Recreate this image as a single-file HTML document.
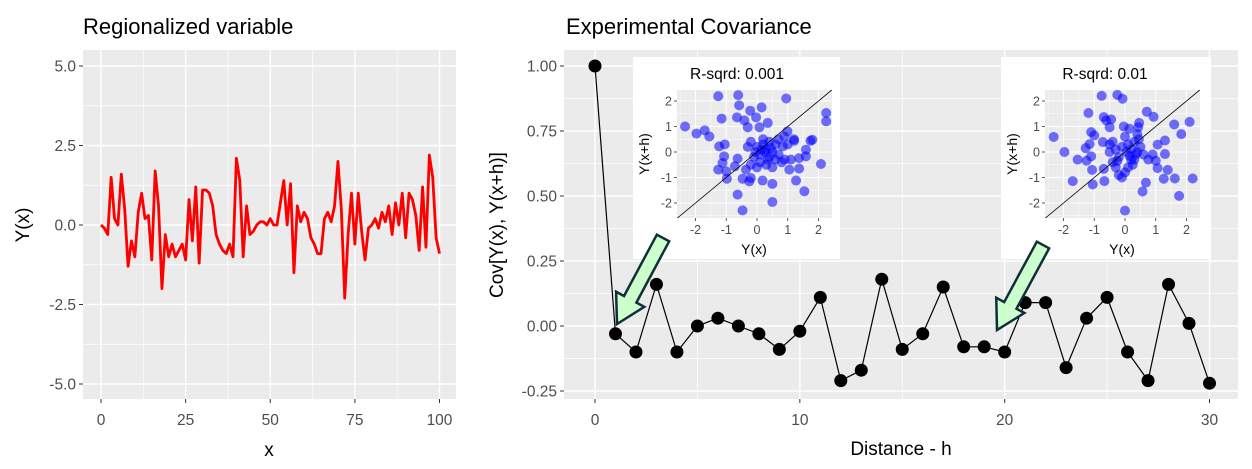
<!DOCTYPE html>
<html><head><meta charset="utf-8"><style>
html,body{margin:0;padding:0;background:#fff;}
svg{display:block;font-family:"Liberation Sans",Arial,sans-serif;}
</style></head><body>
<svg id="chart" width="1252" height="469" viewBox="0 0 1252 469"></svg>
<script>
// ---------- data ----------
const seriesX = [];
for (let i = 0; i <= 100; i++) seriesX.push(i);
const seriesY = [0.0,-0.1,-0.3,1.5,0.2,0.0,1.6,0.5,-1.3,-0.5,-1.0,0.4,1.0,0.2,0.3,-1.1,1.7,0.6,-2.0,-0.3,
-1.0,-0.6,-1.0,-0.8,-0.6,-1.1,0.8,-0.5,1.2,-1.2,1.1,1.1,1.0,0.6,-0.3,-0.6,-0.8,-0.9,-0.6,-1.0,
2.1,1.4,-1.0,0.6,-0.3,-0.2,0.0,0.1,0.1,0.0,0.2,0.0,0.0,0.7,1.4,0.0,1.3,-1.5,0.6,0.1,
0.4,0.2,-0.4,-0.6,-0.9,-0.9,0.2,0.4,0.1,0.6,2.0,0.5,-2.3,-0.3,1.0,-0.6,1.0,-0.2,-1.1,-0.1,
0.0,0.2,-0.1,0.4,0.1,0.6,-0.3,0.7,0.0,1.0,-0.4,1.0,0.8,0.3,-0.8,1.2,-0.7,2.2,1.5,-0.4,-0.9];
const leftYTicks = [5.0, 2.5, 0.0, -2.5, -5.0];
const leftYTickLabels = ["5.0","2.5","0.0","-2.5","-5.0"];
const leftXTicks = [0,25,50,75,100];

const lags = [];
for (let i = 0; i <= 30; i++) lags.push(i);
const covValues = [1.00,-0.03,-0.10,0.16,-0.10,0.00,0.03,0.00,-0.03,-0.09,-0.02,0.11,-0.21,-0.17,0.18,-0.09,-0.03,0.15,-0.08,-0.08,-0.10,0.09,0.09,-0.16,0.03,0.11,-0.10,-0.21,0.16,0.01,-0.22];
const rightYTicks = [1.00,0.75,0.50,0.25,0.00,-0.25];
const rightYTickLabels = ["1.00","0.75","0.50","0.25","0.00","-0.25"];
const rightXTicks = [0,10,20,30];

const inset1X = [-1.26,-0.61,-0.58,0.95,-0.22,0.15,-2.34,-1.97,-1.7,-1.55,-1.15,-0.65,-0.41,-0.03,0.35,0.08,-0.3,2.25,2.25,-1.23,-1.05,-1.07,-1.12,-1.26,-1.0,-0.98,-0.72,-0.63,-0.36,-0.47,-0.2,-0.25,0.18,0.5,-0.63,-0.47,0.5,1.27,1.54,2.08,1.37,1.37,1.05,1.59,1.59,1.8,1.74,1.21,0.99,0.89,0.84,
-0.2,0,0.1,0.2,0.3,0.4,0.5,0.6,0.3,0.1,-0.1,-0.3,0.2,0.4,0.6,0.7,0.8,0.0,0.5,-0.2,0.25,0.45,0.35,0.15,-0.05,0.7,0.9,1.0,1.2,1.1];
const inset1Y = [2.19,2.23,1.83,2.1,1.62,1.75,1.0,0.72,0.85,0.61,1.31,1.36,1.24,1.36,1.14,0.97,0.97,1.53,1.2,0.22,0.3,-0.17,-0.43,-0.69,-0.76,-1.05,-0.56,-0.26,-0.69,-1.05,-1.02,-1.15,-1.12,-1.25,-1.67,-2.29,-1.96,-1.12,-1.54,-0.47,-0.65,-0.24,-0.69,0.09,-0.17,0.48,0.44,0.44,0.81,0.61,0.22,
0.4,0.2,-0.1,0.3,0.1,-0.2,0.0,-0.3,-0.5,-0.4,-0.2,0.2,0.5,0.4,0.3,-0.1,-0.4,-0.6,-0.6,-0.5,0.0,0.15,-0.3,0.1,0.0,0.5,-0.3,0.3,0.5,-0.3];
const inset2X = [-0.76,-0.25,-0.08,-2.32,-1.97,-1.54,-1.25,-1.1,-1.19,-1.1,-1.0,-1.15,-1.28,-1.07,-1.05,-1.7,-0.69,-0.61,-0.5,-0.45,-0.72,-0.69,-0.67,0,0.68,0.57,0.71,0.93,0.46,0.43,-0.04,0.14,1.6,2.1,1.83,1.3,1.06,1.3,1.39,1.26,1.62,2.2,1.76,1.0,0.9,0.76,1.06,
-0.4,-0.3,-0.2,-0.4,-0.3,-0.2,-0.1,0.0,0.1,0.2,0.2,0.1,0.0,0.3,0.4,0.3,0.4,0.5,0.6,-0.5,-0.5,0.05,0.15,-0.1,0.25,0.35,0.45,-0.25];
const inset2Y = [2.2,2.24,2.09,0.59,0,-0.3,-0.34,-0.17,1.53,0.78,0.65,0.31,0.15,-0.7,-1.27,-1.14,1.37,1.24,0.97,1.28,0.39,-0.66,-1.14,-2.3,-1.2,-1.55,1.58,1.38,1.14,0.97,1.0,0.91,1.08,1.18,0.7,0.45,0.29,-0.08,-0.7,-1.05,-1.04,-1.04,-1.72,-0.34,-0.1,-0.3,-0.63,
0.4,0.1,-0.2,-0.4,-0.6,-0.9,-1.0,0.6,0.3,0.1,-0.3,-0.6,-0.8,0.4,0.0,-0.3,0.7,0.2,-0.1,0.0,0.3,0.0,-0.15,0.2,-0.5,-0.1,0.5,-0.35];
const insetTicks = [-2,-1,0,1,2];

// ---------- helpers ----------
const NS = "http://www.w3.org/2000/svg";
const svg = document.getElementById("chart");
function mk(tag, attrs, parent, text) {
  const e = document.createElementNS(NS, tag);
  for (const k in attrs) e.setAttribute(k, attrs[k]);
  if (text !== undefined) e.textContent = text;
  (parent || svg).appendChild(e);
  return e;
}
function lin(d0, d1, r0, r1) { return v => r0 + (v - d0) * (r1 - r0) / (d1 - d0); }

// ---------- left panel ----------
const L = {x0: 83, x1: 456, y0: 50, y1: 399};
const lx = lin(0, 100, 101, 439.5);
const ly = lin(0, 5, 225, 66);
const gL = mk("g", {});


const bgL = mk("rect", {x: L.x0, y: L.y0, width: L.x1 - L.x0, height: L.y1 - L.y0, fill: "#EBEBEB"}, gL);


for (let v = -6.25; v <= 6.25; v += 2.5) {
  const y = ly(v); if (y > L.y0 && y < L.y1) mk("line", {x1: L.x0, x2: L.x1, y1: y, y2: y, stroke: "#fff", "stroke-width": 0.7}, gL);
}
for (let v = 12.5; v <= 100; v += 25) mk("line", {x1: lx(v), x2: lx(v), y1: L.y0, y2: L.y1, stroke: "#fff", "stroke-width": 0.7}, gL);
leftYTicks.forEach((v, i) => {
  const y = ly(v);
  mk("line", {x1: L.x0, x2: L.x1, y1: y, y2: y, stroke: "#fff", "stroke-width": 1.4}, gL);
  mk("line", {x1: L.x0 - 4, x2: L.x0, y1: y, y2: y, stroke: "#333", "stroke-width": 1}, gL);
  const t = mk("text", {x: L.x0 - 7, y: y + 5.5, "text-anchor": "end", "font-size": 15.5, fill: "#4D4D4D"}, gL, leftYTickLabels[i]);
  
  
});
leftXTicks.forEach(v => {
  const x = lx(v);
  mk("line", {x1: x, x2: x, y1: L.y0, y2: L.y1, stroke: "#fff", "stroke-width": 1.4}, gL);
  mk("line", {x1: x, x2: x, y1: L.y1, y2: L.y1 + 4, stroke: "#333", "stroke-width": 1}, gL);
  const t = mk("text", {x: x, y: 425, "text-anchor": "middle", "font-size": 15.5, fill: "#4D4D4D"}, gL, String(v));
  
  
});
const redLine = mk("polyline", {points: seriesX.map((xv, i) => lx(xv) + "," + ly(seriesY[i])).join(" "), fill: "none", stroke: "#FF0000", "stroke-width": 2.8, "stroke-linejoin": "round"}, gL);


const tL = mk("text", {x: 83, y: 34, "font-size": 22, fill: "#000"}, svg, "Regionalized variable");


const xtL = mk("text", {x: 269, y: 456, "text-anchor": "middle", "font-size": 19, fill: "#000"}, svg, "x");


const ytL = mk("text", {x: 0, y: 0, "text-anchor": "middle", "font-size": 19, fill: "#000", transform: "translate(29,225) rotate(-90)"}, svg, "Y(x)");



// ---------- right panel ----------
const R = {x0: 564, x1: 1238, y0: 50, y1: 399};
const rx = lin(0, 30, 595, 1209.5);
const ry = lin(0, 1, 326, 66);
const gR = mk("g", {});


const bgR = mk("rect", {x: R.x0, y: R.y0, width: R.x1 - R.x0, height: R.y1 - R.y0, fill: "#EBEBEB"}, gR);


for (let v = -0.375; v <= 1.2; v += 0.25) {
  const y = ry(v); if (y > R.y0 && y < R.y1) mk("line", {x1: R.x0, x2: R.x1, y1: y, y2: y, stroke: "#fff", "stroke-width": 0.7}, gR);
}
for (let v = 5; v <= 30; v += 10) mk("line", {x1: rx(v), x2: rx(v), y1: R.y0, y2: R.y1, stroke: "#fff", "stroke-width": 0.7}, gR);
rightYTicks.forEach((v, i) => {
  const y = ry(v);
  mk("line", {x1: R.x0, x2: R.x1, y1: y, y2: y, stroke: "#fff", "stroke-width": 1.4}, gR);
  mk("line", {x1: R.x0 - 4, x2: R.x0, y1: y, y2: y, stroke: "#333", "stroke-width": 1}, gR);
  const t = mk("text", {x: R.x0 - 7, y: y + 5.5, "text-anchor": "end", "font-size": 15.5, fill: "#4D4D4D"}, gR, rightYTickLabels[i]);
  
  
});
rightXTicks.forEach(v => {
  const x = rx(v);
  mk("line", {x1: x, x2: x, y1: R.y0, y2: R.y1, stroke: "#fff", "stroke-width": 1.4}, gR);
  mk("line", {x1: x, x2: x, y1: R.y1, y2: R.y1 + 4, stroke: "#333", "stroke-width": 1}, gR);
  const t = mk("text", {x: x, y: 425, "text-anchor": "middle", "font-size": 15.5, fill: "#4D4D4D"}, gR, String(v));
  
  
});
const covLine = mk("polyline", {points: lags.map((h, i) => rx(h) + "," + ry(covValues[i])).join(" "), fill: "none", stroke: "#000", "stroke-width": 1.2}, gR);


lags.forEach((h, i) => {
  const c = mk("circle", {cx: rx(h), cy: ry(covValues[i]), r: 6.5, fill: "#000"}, gR);
  
  
});
const tR = mk("text", {x: 566, y: 34, "font-size": 22, fill: "#000"}, svg, "Experimental Covariance");


const xtR = mk("text", {x: 901, y: 455, "text-anchor": "middle", "font-size": 19, fill: "#000"}, svg, "Distance - h");


const ytR = mk("text", {x: 0, y: 0, "text-anchor": "middle", "font-size": 19, fill: "#000", transform: "translate(503,225) rotate(-90)"}, svg, "Cov[Y(x), Y(x+h)]");



// ---------- insets ----------
function inset(box, panel, xs, ys, title, name) {
  const g = mk("g", {});
  
  
  mk("rect", {x: box.x, y: box.y, width: box.w, height: box.h, fill: "#fff"}, g);
  const ix = lin(-2, 2, panel.x0 + 18.5, panel.x0 + 141.5);
  const iy = lin(-2, 2, 203, 101);
  mk("rect", {x: panel.x0, y: 90, width: 155, height: 128, fill: "#EBEBEB"}, g);
  for (let v = -2.5; v <= 2.5; v += 1) {
    if (ix(v) > panel.x0 && ix(v) < panel.x0 + 155) mk("line", {x1: ix(v), x2: ix(v), y1: 90, y2: 218, stroke: "#fff", "stroke-width": 0.5}, g);
    if (iy(v) > 90 && iy(v) < 218) mk("line", {x1: panel.x0, x2: panel.x0 + 155, y1: iy(v), y2: iy(v), stroke: "#fff", "stroke-width": 0.5}, g);
  }
  insetTicks.forEach(v => {
    mk("line", {x1: ix(v), x2: ix(v), y1: 90, y2: 218, stroke: "#fff", "stroke-width": 1}, g);
    mk("line", {x1: panel.x0, x2: panel.x0 + 155, y1: iy(v), y2: iy(v), stroke: "#fff", "stroke-width": 1}, g);
    mk("line", {x1: ix(v), x2: ix(v), y1: 218, y2: 221, stroke: "#333", "stroke-width": 0.8}, g);
    mk("line", {x1: panel.x0 - 3, x2: panel.x0, y1: iy(v), y2: iy(v), stroke: "#333", "stroke-width": 0.8}, g);
    const tx = mk("text", {x: ix(v), y: 234, "text-anchor": "middle", "font-size": 12.5, fill: "#4D4D4D"}, g, String(v));
    
    
    const ty = mk("text", {x: panel.x0 - 5, y: iy(v) + 4.5, "text-anchor": "end", "font-size": 12.5, fill: "#4D4D4D"}, g, String(v));
    
    
  });
  const cid = name + "-clip";
  const cp = mk("clipPath", {id: cid}, g);
  mk("rect", {x: panel.x0, y: 90, width: 155, height: 128}, cp);
  xs.forEach((xv, i) => {
    const c = mk("circle", {cx: ix(xv), cy: iy(ys[i]), r: 5, fill: "#0000FF", "fill-opacity": 0.55}, g);
    
    
  });
  const ln = mk("line", {x1: ix(-3), y1: iy(-3), x2: ix(3), y2: iy(3), stroke: "#000", "stroke-width": 0.8, "clip-path": "url(#" + cid + ")"}, g);
  
  
  const tt = mk("text", {x: panel.x0 + 60, y: 79, "text-anchor": "middle", "font-size": 15.5, fill: "#000"}, g, title);
  
  
  const xt = mk("text", {x: panel.x0 + 77, y: 254, "text-anchor": "middle", "font-size": 14, fill: "#000"}, g, "Y(x)");
  
  
  const yt = mk("text", {x: 0, y: 0, "text-anchor": "middle", "font-size": 14, fill: "#000", transform: "translate(" + (panel.x0 - 28) + ",154) rotate(-90)"}, g, "Y(x+h)");
  
  
}
inset({x: 633, y: 57, w: 207, h: 202}, {x0: 677}, inset1X, inset1Y, "R-sqrd: 0.001", "inset-lag-1");
inset({x: 1001, y: 57, w: 210, h: 202}, {x0: 1045}, inset2X, inset2Y, "R-sqrd: 0.01", "inset-lag-20");

// ---------- arrows ----------
function arrow(tipX, tipY, tailX, tailY, name) {
  const dx = tipX - tailX, dy = tipY - tailY, len = Math.hypot(dx, dy);
  const ux = dx / len, uy = dy / len, px = -uy, py = ux;
  const sw = 7, hw = 16, hl = 28;
  const bx = tipX - ux * hl, by = tipY - uy * hl;
  const pts = [
    [tailX + px * sw, tailY + py * sw], [bx + px * sw, by + py * sw], [bx + px * hw, by + py * hw],
    [tipX, tipY], [bx - px * hw, by - py * hw], [bx - px * sw, by - py * sw], [tailX - px * sw, tailY - py * sw]
  ].map(p => p.join(",")).join(" ");
  const a = mk("polygon", {points: pts, fill: "#CCFFCC", stroke: "#0F2F3A", "stroke-width": 2.5, "stroke-linejoin": "miter"});
  
  
}
arrow(617, 324, 663, 238, "arrow-to-lag-1");
arrow(997, 330, 1043, 245, "arrow-to-lag-20");
</script>
</body></html>
